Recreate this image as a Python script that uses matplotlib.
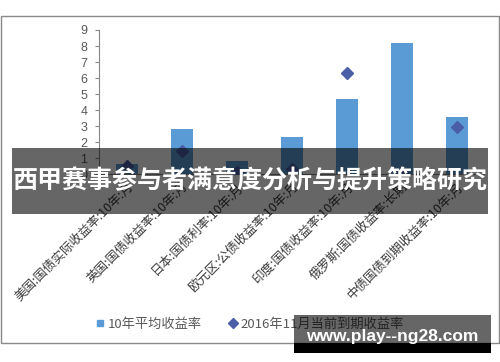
import numpy as np
import matplotlib
matplotlib.use("Agg")
import matplotlib.pyplot as plt
from matplotlib.patches import Rectangle
from matplotlib.lines import Line2D

plt.rcParams['font.family'] = ['Noto Sans CJK SC', 'DejaVu Sans']

categories = ['美国:国债实际收益率:10年:月', '英国:国债收益率:10年:月', '日本:国债利率:10年:月',
              '欧元区:公债收益率:10年:月', '印度:国债收益率:10年:月', '俄罗斯:国债收益率:长期',
              '中债国债到期收益率:10年:月']
avg_10y = [0.65, 2.8, 0.85, 2.3, 4.7, 8.2, 3.58]
current_2016 = [0.5, 1.45, 0.15, 0.35, 6.3, 0.1, 2.97]
series_names = ['10年平均收益率', '2016年11月当前到期收益率']
yticks = list(range(0, 10))

W, H = 500, 362
fig = plt.figure(figsize=(5, 3.62), dpi=100)
ax = fig.add_axes([99 / W, 1 - 174.4 / H, 385 / W, 144.4 / H])

x = np.arange(len(categories))
ax.bar(x, avg_10y, width=0.4, color='#5b9bd5', zorder=2)
ax.plot(x, current_2016, linestyle='none', marker='D', markersize=6,
        color='#4a5ea8', zorder=3)

ax.set_xlim(-0.5, len(categories) - 0.5)
ax.set_ylim(0, 9)
ax.set_yticks(yticks)
ax.set_yticklabels([str(v) for v in yticks], family='Liberation Sans', fontsize=9, color='#595959')
ax.tick_params(axis='y', length=3, width=0.8, color='#868686', pad=5.5)
ax.set_xticks(x)
ax.set_xticklabels(categories, rotation=45, ha='right', rotation_mode='anchor',
                   fontsize=9, color='#3a3a3a')
ax.tick_params(axis='x', length=0, pad=4)
for s in ['top', 'right']:
    ax.spines[s].set_visible(False)
for s in ['left', 'bottom']:
    ax.spines[s].set_color('#868686')
    ax.spines[s].set_linewidth(0.8)

# outer chart frame
fig.add_artist(Rectangle((1 / W, 1 - 343 / H), 498 / W, 327 / H, transform=fig.transFigure,
                         facecolor='none', edgecolor='#898989', linewidth=1, zorder=0))

handles = [Line2D([], [], linestyle='none', marker='s', markersize=4.5, color='#5b9bd5'),
           Line2D([], [], linestyle='none', marker='D', markersize=5, color='#4a5ea8')]
fig.legend(handles, series_names, loc='center', bbox_to_anchor=(250 / W, 1 - 324 / H), ncol=2,
           frameon=False, fontsize=9.5, handlelength=0.6, handletextpad=0.3,
           columnspacing=2.0, labelcolor='#595959')

# title banner
fig.add_artist(Rectangle((12 / W, 1 - 214 / H), 476 / W, 66 / H, transform=fig.transFigure,
                         facecolor='black', alpha=0.6, edgecolor='none', zorder=10))
fig.text(250 / W, 1 - 181 / H, '西甲赛事参与者满意度分析与提升策略研究', ha='center', va='center',
         fontsize=18, fontweight='bold', color='white', zorder=11)

# watermark
fig.add_artist(Rectangle((294 / W, 1 - 343 / H), 197 / W, 28 / H, transform=fig.transFigure,
                         facecolor='black', alpha=0.6, edgecolor='none', zorder=10))
fig.add_artist(Rectangle((294 / W, 1 - 353 / H), 197 / W, 10 / H, transform=fig.transFigure,
                         facecolor='black', edgecolor='none', zorder=10))
fig.text(392 / W, 1 - 337 / H, 'www.play--ng28.com', ha='center', va='center',
         family='Liberation Sans', fontsize=12.5, fontweight='bold', color='white', zorder=11)

fig.savefig('out.png', dpi=100)
